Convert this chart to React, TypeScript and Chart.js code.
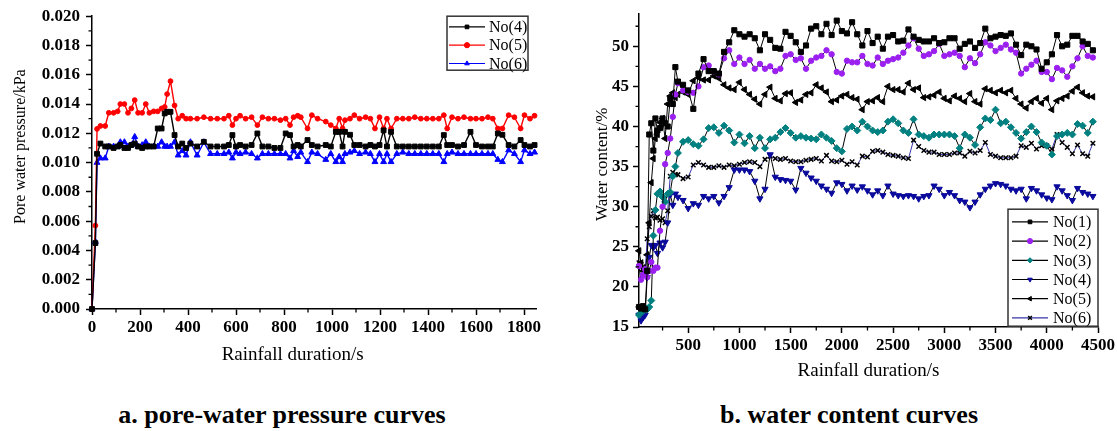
import React, { useEffect, useRef } from 'react';
import { Chart, registerables } from 'chart.js';

Chart.register(...registerables);

const SERIF = '"Liberation Serif", "Times New Roman", Times, serif';
const NB = '\u00a0';

// ---------------- Chart a: pore-water pressure ----------------
const timeA = [0,14,21,35,55,70,90,107,118,135,150,164,178,192,209,224,239,257,274,290,303,313,327,344,359,376,392,410,438,466,494,522,550,570,585,600,617,640,665,689,710,735,760,785,807,825,840,857,870,898,916,940,974,995,1016,1030,1044,1054,1075,1093,1115,1140,1160,1179,1198,1215,1229,1246,1270,1295,1320,1345,1370,1395,1420,1445,1466,1480,1500,1525,1550,1577,1600,1625,1650,1670,1691,1710,1736,1760,1786,1802,1825,1844];

const pressureNo4 = [0,0.0045,0.0106,0.0113,0.0111,0.0111,0.0110,0.0111,0.0112,0.0110,
0.0110,0.0112,0.0113,0.0111,0.0110,0.0111,0.0111,0.0111,0.01233,0.01233,
0.01336,0.01347,0.01347,0.01188,0.0111,0.0113,0.0110,0.0113,0.0111,0.01142,
0.0111,0.0111,0.0111,0.0112,0.01188,0.0111,0.0112,0.0111,0.0112,0.01199,
0.0111,0.0111,0.0110,0.0110,0.01199,0.01188,0.0111,0.0112,0.0111,0.01154,
0.0112,0.0111,0.0112,0.0111,0.0121,0.0121,0.0111,0.0121,0.0119,0.0112,
0.0112,0.0111,0.0112,0.0111,0.0112,0.0122,0.0111,0.0121,0.0111,0.0111,
0.0111,0.0111,0.0111,0.0111,0.0111,0.0111,0.01188,0.0112,0.0112,0.0111,
0.0112,0.0121,0.0112,0.0111,0.0111,0.0111,0.01199,0.0119,0.0112,0.0111,
0.01154,0.0112,0.0111,0.0112];

const pressureNo5 = [0,0.0057,0.0123,0.0125,0.0125,0.0134,0.0134,0.0135,0.0140,0.0140,
0.0134,0.0137,0.01427,0.0134,0.0134,0.0140,0.0134,0.0135,0.0135,0.0137,
0.0138,0.01468,0.01556,0.0139,0.0130,0.0132,0.0130,0.0130,0.0130,0.0131,
0.0130,0.0130,0.0130,0.0132,0.01256,0.0130,0.0132,0.0130,0.0131,0.01256,
0.0131,0.0130,0.0130,0.0129,0.0130,0.01256,0.0131,0.0132,0.0131,0.01233,
0.01324,0.0130,0.0128,0.01256,0.01233,0.0130,0.01233,0.0129,0.0130,0.01324,
0.0130,0.0131,0.0130,0.01233,0.0131,0.01233,0.0130,0.01233,0.0130,0.0130,
0.0130,0.0131,0.0130,0.0130,0.0130,0.0130,0.01324,0.01233,0.0131,0.0130,
0.0131,0.0130,0.0130,0.0130,0.0131,0.0130,0.01233,0.01233,0.01324,0.0131,
0.01233,0.01324,0.0130,0.0132];

const pressureNo6 = [0,0.0046,0.0100,0.0103,0.0103,0.0111,0.0111,0.0111,0.0114,0.0114,
0.0111,0.0112,0.01176,0.0111,0.0112,0.0114,0.0111,0.0111,0.0111,0.0114,
0.0111,0.0111,0.0111,0.0114,0.0105,0.0108,0.0105,0.0114,0.0105,0.0114,
0.0106,0.0106,0.0106,0.0107,0.0103,0.0107,0.0106,0.0107,0.0106,0.0103,
0.0106,0.0106,0.0106,0.0106,0.0106,0.0103,0.0108,0.0104,0.0107,0.01005,
0.0107,0.0106,0.0102,0.0106,0.01005,0.0104,0.01005,0.0106,0.0107,0.0108,
0.0106,0.0107,0.0106,0.01005,0.0106,0.01005,0.0106,0.01005,0.0106,0.0107,
0.0106,0.0106,0.0106,0.0106,0.0106,0.0106,0.01005,0.0106,0.0107,0.0106,
0.0106,0.0106,0.0106,0.0106,0.0106,0.0106,0.0102,0.01005,0.01085,0.0106,
0.01005,0.01085,0.0106,0.0107];

const xTicksA = [0,200,400,600,800,1000,1200,1400,1600,1800];
const xMinorA = [100,300,500,700,900,1100,1300,1500,1700];
const yTicksA = [0,0.002,0.004,0.006,0.008,0.010,0.012,0.014,0.016,0.018,0.020];
const yMinorA = [0.001,0.003,0.005,0.007,0.009,0.011,0.013,0.015,0.017,0.019];

// ---------------- Chart b: water content ----------------
const timeB = [20,40,60,80,100,120,140,160,180,200,225,250,275,300,325,350,375,400,
450,500,550,600,650,700,750,800,850,900,950,1000,1050,1100,1150,1200,1250,1300,1350,1400,
1450,1500,1550,1600,1650,1700,1750,1800,1850,1900,1950,2000,2050,2100,2150,2200,2250,2300,
2350,2400,2450,2500,2550,2600,2650,2700,2750,2800,2850,2900,2950,3000,3050,3100,3150,3200,
3250,3300,3350,3400,3450,3500,3550,3600,3650,3700,3750,3800,3850,3900,3950,4000,4050,4100,
4150,4200,4250,4300,4350,4400,4450];

const waterNo1 = [17.5,17.3,17.6,17.2,22.0,39.0,40.4,37.0,41.0,39.5,39.8,41.0,40.4,40.0,43.5,42.8,47.4,45.6,
45.2,44.5,42.2,46.6,48.4,46.9,46.9,46.6,49.3,50.5,
52.0,51.5,51.2,51.5,51.0,49.5,51.5,50.8,49.8,49.7,
51.8,51.3,50.5,49.3,50.1,52.2,52.5,51.5,52.8,51.4,
53.2,51.9,51.6,53.0,51.5,50.1,51.9,50.4,51.2,49.7,
51.2,51.4,50.6,50.7,52.1,51.2,50.8,50.6,50.6,51.0,
50.4,50.5,51.0,51.0,49.7,50.3,50.6,49.8,50.4,52.2,
51.0,51.2,51.4,51.3,51.6,50.2,48.9,50.2,50.0,49.6,
47.2,48.0,49.0,51.4,50.0,50.2,51.3,51.3,50.6,50.3,
49.5];

const waterNo2 = [22.6,20.9,21.5,22.2,21.2,22.0,23.1,22.0,22.4,22.4,27.0,30.0,35.3,36.7,38.5,41.2,44.0,45.4,
44.5,44.3,44.2,45.0,47.4,47.6,46.9,46.5,48.5,49.5,
47.8,48.6,47.8,48.3,47.2,47.8,47.2,47.5,46.9,47.2,
48.8,49.0,48.3,48.5,47.2,48.2,48.6,48.8,49.5,49.0,
46.8,46.6,48.2,48.0,48.0,48.8,47.8,47.6,48.6,47.8,
48.2,48.4,48.6,49.2,50.1,51.0,49.7,48.8,49.0,49.4,
50.3,48.8,49.0,49.2,48.8,47.4,48.5,47.9,49.0,50.5,
50.1,49.4,49.8,50.2,49.6,49.2,46.6,47.2,47.7,48.2,
46.8,46.8,45.9,47.3,47.0,46.2,47.5,48.5,50.0,48.8,
48.6];

const waterNo3 = [16.5,16.8,17.0,17.4,17.2,17.5,18.3,26.4,29.6,31.6,31.9,31.2,30.6,31.6,31.8,33.8,35.0,36.7,
38.1,38.3,37.8,37.6,38.4,39.8,39.9,39.2,40.1,39.5,
38.0,39.0,37.9,38.8,37.3,38.6,37.3,38.4,38.6,39.3,
39.8,39.2,38.6,38.8,38.6,38.5,38.4,39.0,38.6,38.2,
37.3,36.9,39.7,40.0,39.5,40.6,40.0,39.5,39.3,39.5,
40.6,40.9,40.4,39.5,39.2,40.9,39.0,38.8,38.6,39.0,
39.0,39.0,39.0,38.8,37.3,39.0,38.6,37.7,39.9,41.0,
40.8,42.1,40.4,40.6,39.9,39.2,38.5,39.3,40.0,39.3,
38.0,37.6,36.5,38.8,39.0,39.2,39.0,40.3,40.1,39.2,
40.6];

const waterNo4 = [16.5,15.8,16.2,16.5,21.2,23.7,25.2,24.9,25.2,24.2,25.5,24.9,25.6,28.0,31.5,30.2,31.6,31.2,
30.8,29.8,30.4,30.2,31.3,31.0,31.3,30.5,31.3,32.4,
34.6,34.6,34.6,34.4,33.2,31.0,32.2,36.5,33.7,33.4,
33.3,33.2,32.1,34.8,34.2,33.6,33.2,32.6,32.2,31.7,
33.0,32.8,32.0,32.6,32.1,32.5,32.0,31.5,32.0,31.4,
32.6,31.6,31.4,31.3,31.4,31.3,31.0,31.3,31.4,32.6,
32.2,31.4,31.8,31.4,30.8,30.6,29.9,30.6,31.5,32.2,
32.6,32.9,32.8,32.6,32.2,32.0,32.2,31.0,32.3,32.0,
31.5,31.1,30.9,32.5,32.0,31.4,30.8,32.3,31.8,31.6,
31.3];

const waterNo5 = [24.5,23.0,22.0,21.8,24.0,28.0,33.0,36.0,38.5,39.0,40.5,41.0,38.5,42.8,43.8,44.2,43.6,44.0,
44.3,44.0,45.7,46.1,45.8,45.8,46.3,46.0,45.2,44.8,
44.6,45.5,44.6,44.0,43.4,42.8,44.0,44.9,43.5,43.2,
44.1,44.2,43.0,43.3,44.0,44.2,45.2,44.8,44.3,43.1,
43.3,43.8,44.0,43.6,43.4,42.1,43.1,43.2,43.6,43.1,
45.0,44.6,44.6,44.3,45.4,44.6,44.8,43.6,43.7,43.9,
44.3,43.5,43.2,43.8,43.5,43.1,44.1,43.1,42.8,44.7,
44.5,44.2,44.5,44.2,44.5,43.5,42.8,42.3,43.1,43.5,
42.9,43.5,42.1,43.2,43.5,43.8,44.4,44.9,44.2,43.8,
43.7];

const waterNo6 = [23.0,22.8,22.5,21.8,26.0,27.5,28.8,29.5,28.6,28.7,28.3,28.5,28.0,29.5,33.8,34.3,34.0,34.0,
33.5,33.7,35.2,35.5,35.2,34.9,34.9,35.1,34.9,35.2,
35.1,35.3,35.5,35.6,35.5,35.0,35.9,36.3,36.0,35.9,
36.0,35.7,35.6,35.6,35.8,35.9,36.0,35.7,36.4,35.7,
35.6,35.8,35.3,35.6,35.2,36.3,36.2,36.9,37.0,36.8,
36.5,36.4,36.3,36.1,36.0,38.3,37.5,37.0,36.8,36.8,
36.5,36.5,36.5,36.7,36.7,36.3,36.9,36.7,37.0,38.0,
36.5,36.3,36.1,36.1,36.1,36.3,37.6,37.4,37.9,37.2,
37.6,37.6,37.2,39.0,38.0,37.4,36.6,37.7,36.6,36.3,
37.9];

const xTicksB = [500,1000,1500,2000,2500,3000,3500,4000,4500];
const xMinorB = [250,750,1250,1750,2250,2750,3250,3750,4250];
const yTicksB = [15,20,25,30,35,40,45,50];
const yMinorB = [17.5,22.5,27.5,32.5,37.5,42.5,47.5,52.5];

// ---------------- helpers ----------------
function drawMarker(ctx: CanvasRenderingContext2D, style: string, rotation: number, r: number, fill: string, stroke: string, x: number, y: number) {
  let rad = (rotation || 0) * Math.PI / 180;
  ctx.save();
  ctx.fillStyle = fill;
  ctx.strokeStyle = stroke;
  ctx.lineWidth = 1;
  ctx.beginPath();
  if (style === 'circle') {
    ctx.arc(x, y, r, 0, Math.PI * 2);
    ctx.fill(); ctx.stroke();
  } else if (style === 'rect') {
    const s = r * Math.SQRT1_2;
    ctx.rect(x - s, y - s, 2 * s, 2 * s);
    ctx.fill(); ctx.stroke();
  } else if (style === 'rectRot') {
    ctx.moveTo(x - r, y); ctx.lineTo(x, y - r); ctx.lineTo(x + r, y); ctx.lineTo(x, y + r);
    ctx.closePath(); ctx.fill(); ctx.stroke();
  } else if (style === 'triangle') {
    ctx.moveTo(x + Math.sin(rad) * r, y - Math.cos(rad) * r);
    rad += (2 * Math.PI) / 3;
    ctx.lineTo(x + Math.sin(rad) * r, y - Math.cos(rad) * r);
    rad += (2 * Math.PI) / 3;
    ctx.lineTo(x + Math.sin(rad) * r, y - Math.cos(rad) * r);
    ctx.closePath(); ctx.fill(); ctx.stroke();
  } else if (style === 'crossRot') {
    const o = r * Math.SQRT1_2;
    ctx.lineWidth = 1.5;
    ctx.moveTo(x - o, y - o); ctx.lineTo(x + o, y + o);
    ctx.moveTo(x + o, y - o); ctx.lineTo(x - o, y + o);
    ctx.stroke();
  }
  ctx.restore();
}

function legendPlugin(cfg: any) {
  return {
    id: 'boxLegend',
    afterDraw(chart: any) {
      const { ctx, chartArea: ca } = chart;
      const x0 = ca.right - cfg.right - cfg.w;
      const y0 = ca.top + cfg.top;
      ctx.save();
      ctx.fillStyle = '#fff';
      ctx.fillRect(x0, y0, cfg.w, cfg.h);
      ctx.lineWidth = 1.5;
      ctx.strokeStyle = '#333';
      ctx.strokeRect(x0, y0, cfg.w, cfg.h);
      ctx.font = `${cfg.fontSize}px ${SERIF}`;
      ctx.textBaseline = 'middle';
      ctx.textAlign = 'left';
      chart.data.datasets.forEach((ds: any, i: number) => {
        const y = y0 + cfg.first + i * cfg.row;
        ctx.strokeStyle = ds.borderColor;
        ctx.lineWidth = 1.2;
        ctx.beginPath();
        ctx.moveTo(x0 + cfg.lineX0, y);
        ctx.lineTo(x0 + cfg.lineX1, y);
        ctx.stroke();
        drawMarker(ctx, ds.pointStyle, ds.pointRotation || 0, cfg.markerR, ds.pointBackgroundColor, ds.pointBorderColor, x0 + (cfg.lineX0 + cfg.lineX1) / 2, y);
        ctx.fillStyle = '#000';
        ctx.fillText(ds.label, x0 + cfg.textX, y + 1);
      });
      ctx.restore();
    },
  };
}

function minorTicksPlugin(xs: number[], ys: number[]) {
  return {
    id: 'minorTicks',
    afterDraw(chart: any) {
      const { ctx, chartArea: ca } = chart;
      const xS = chart.scales.x;
      const yS = chart.scales.y;
      ctx.save();
      ctx.strokeStyle = '#000';
      ctx.lineWidth = 1.3;
      ctx.beginPath();
      xs.forEach((v) => {
        const p = xS.getPixelForValue(v);
        ctx.moveTo(p, ca.bottom);
        ctx.lineTo(p, ca.bottom + 3.5);
      });
      ys.forEach((v) => {
        const p = yS.getPixelForValue(v);
        ctx.moveTo(ca.left, p);
        ctx.lineTo(ca.left - 3.5, p);
      });
      ctx.stroke();
      ctx.restore();
    },
  };
}

function axis(o: any) {
  return {
    type: 'linear',
    min: o.min,
    max: o.max,
    afterBuildTicks: (s: any) => { s.ticks = o.ticks.map((v: number) => ({ value: v })); },
    afterFit: o.fit,
    border: { display: true, color: '#000', width: 1.5 },
    grid: { display: true, drawOnChartArea: false, drawTicks: true, tickLength: 6, tickWidth: 1.5, tickColor: '#000' },
    ticks: {
      color: '#000',
      padding: o.tickPad,
      autoSkip: false,
      maxRotation: 0,
      font: { family: SERIF, size: 17, weight: 'bold' },
      callback: (v: any) => o.fmt(Number(v)),
    },
    title: {
      display: true,
      text: o.title,
      color: '#000',
      font: { family: SERIF, size: o.titleSize, weight: 'normal' },
      padding: o.titlePad,
    },
  };
}

function series(label: string, xs: number[], ys: number[], line: string, style: string, rot: number, r: number, fill: string, stroke: string, bw: number) {
  return {
    label,
    data: xs.map((x, i) => ({ x, y: ys[i] })),
    borderColor: line,
    backgroundColor: fill,
    borderWidth: bw,
    pointStyle: style,
    pointRotation: rot,
    pointRadius: r,
    pointBackgroundColor: fill,
    pointBorderColor: stroke,
    pointBorderWidth: style === 'crossRot' ? 1.5 : 1,
    tension: 0,
    clip: false,
  };
}

function configA(): any {
  return {
    type: 'line',
    data: {
      datasets: [
        series('No(4)', timeA, pressureNo4, '#000000', 'rect', 0, 3.4, '#000000', '#000000', 1.4),
        series('No(5)', timeA, pressureNo5, '#ff0000', 'circle', 0, 2.4, '#ff0000', '#ff0000', 1.4),
        series('No(6)', timeA, pressureNo6, '#0000ff', 'triangle', 0, 3.4, '#0000ff', '#0000ff', 1.4),
      ],
    },
    options: {
      responsive: false,
      animation: false,
      devicePixelRatio: 1,
      layout: { padding: { top: 16, right: 24, bottom: 11, left: 0 } },
      plugins: { legend: { display: false }, tooltip: { enabled: false } },
      scales: {
        x: axis({
          min: 0, max: 1850, ticks: xTicksA, tickPad: 2, fmt: (v: number) => String(v),
          title: 'Rainfall duration/s' + NB.repeat(9), titleSize: 19, titlePad: { top: 0, bottom: 3 },
          fit: (s: any) => { s.height = 60; },
        }),
        y: axis({
          min: 0, max: 0.02, ticks: yTicksA, tickPad: 6, fmt: (v: number) => v.toFixed(3),
          title: NB.repeat(8) + 'Pore water pressure/kPa', titleSize: 16, titlePad: { top: 11, bottom: 0 },
          fit: (s: any) => { s.width = 92; },
        }),
      },
    },
    plugins: [
      minorTicksPlugin(xMinorA, yMinorA),
      legendPlugin({ right: 8, top: 0, w: 81, h: 54, first: 10.7, row: 18.3, lineX0: 2, lineX1: 38, textX: 42, fontSize: 16, markerR: 2.6 }),
    ],
  };
}

function configB(): any {
  return {
    type: 'line',
    data: {
      datasets: [
        series('No(1)', timeB, waterNo1, '#000000', 'rect', 0, 3.6, '#000000', '#000000', 1),
        series('No(2)', timeB, waterNo2, '#000000', 'circle', 0, 2.7, '#9b20f0', '#9b20f0', 1),
        series('No(3)', timeB, waterNo3, '#000000', 'rectRot', 0, 3.5, '#008080', '#008080', 1),
        series('No(4)', timeB, waterNo4, '#000000', 'triangle', 180, 3.6, '#0a0a9e', '#0a0a9e', 1),
        series('No(5)', timeB, waterNo5, '#000000', 'triangle', 270, 3.6, '#000000', '#000000', 1),
        series('No(6)', timeB, waterNo6, '#3535a8', 'crossRot', 0, 3.2, '#000000', '#000000', 1),
      ],
    },
    options: {
      responsive: false,
      animation: false,
      devicePixelRatio: 1,
      layout: { padding: { top: 12, right: 19, bottom: 5, left: 0 } },
      plugins: { legend: { display: false }, tooltip: { enabled: false } },
      scales: {
        x: axis({
          min: 20, max: 4500, ticks: xTicksB, tickPad: 2, fmt: (v: number) => String(v),
          title: 'Rainfall duration/s', titleSize: 19, titlePad: { top: 0, bottom: 3 },
          fit: (s: any) => { s.height = 58; },
        }),
        y: axis({
          min: 15, max: 54, ticks: yTicksB, tickPad: 4, fmt: (v: number) => String(v),
          title: NB.repeat(3) + 'Water content/%', titleSize: 17, titlePad: { top: 32, bottom: 0 },
          fit: (s: any) => { s.width = 79; },
        }),
      },
    },
    plugins: [
      minorTicksPlugin(xMinorB, yMinorB),
      legendPlugin({ right: 0, top: 195, w: 90, h: 117, first: 12.7, row: 19.2, lineX0: 4, lineX1: 40, textX: 45, fontSize: 16, markerR: 2.6 }),
    ],
  };
}

const captionStyle = (center: number): React.CSSProperties => ({
  position: 'absolute',
  left: center - 250,
  width: 500,
  top: 402,
  textAlign: 'center',
  fontFamily: SERIF,
  fontWeight: 'bold',
  fontSize: 26,
  lineHeight: '26px',
  color: '#000',
  whiteSpace: 'nowrap',
});

export default function App() {
  const refA = useRef<HTMLCanvasElement>(null);
  const refB = useRef<HTMLCanvasElement>(null);
  useEffect(() => {
    const a = new Chart(refA.current as HTMLCanvasElement, configA());
    const b = new Chart(refB.current as HTMLCanvasElement, configB());
    return () => {
      a.destroy();
      b.destroy();
    };
  }, []);
  return (
    <div style={{ position: 'absolute', left: 0, top: 0, width: 1117, height: 431, background: '#fff', overflow: 'hidden' }}>
      <canvas ref={refA} width={560} height={380} style={{ position: 'absolute', left: 0, top: 0 }} />
      <canvas ref={refB} width={557} height={390} style={{ position: 'absolute', left: 560, top: 0 }} />
      <div style={captionStyle(282)}>a. pore-water pressure curves</div>
      <div style={captionStyle(849)}>b. water content curves</div>
    </div>
  );
}
